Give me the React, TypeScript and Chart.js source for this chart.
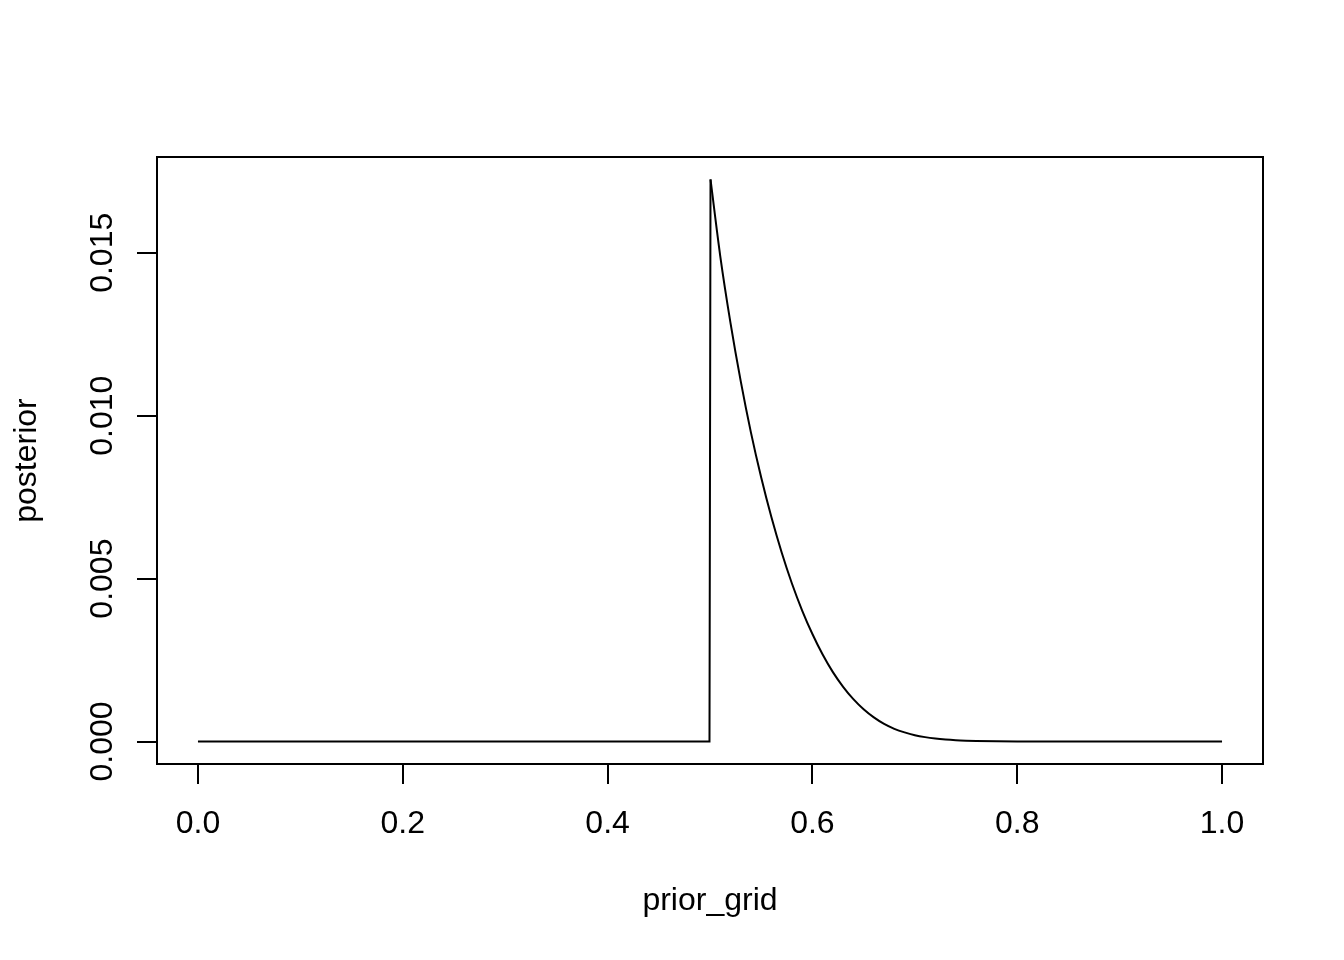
import React, { useEffect, useRef } from "react";
import { Chart, registerables } from "chart.js";

Chart.register(...registerables);

// flat part (prior is zero below 0.5) and the jump
const flatX: number[] = [0, 0.4995, 0.5005];
const flatY: number[] = [0, 0, 0.01725];
// decaying part of the posterior
const gridX: number[] = [
  0.5005, 0.51, 0.52, 0.53, 0.54, 0.55, 0.56, 0.57, 0.58, 0.59, 0.6, 0.61, 0.62,
  0.63, 0.64, 0.65, 0.66, 0.67, 0.68, 0.69, 0.7, 0.71, 0.72, 0.73, 0.74, 0.75,
  0.76, 0.78, 0.8, 0.85, 1.0,
];
const posterior: number[] = [
  0.01725, 0.0149, 0.01285, 0.01106, 0.00948, 0.0081, 0.00688, 0.0058, 0.00485,
  0.00402, 0.0033, 0.00267, 0.00213, 0.00168, 0.0013, 0.00099, 0.00074, 0.00054,
  0.00039, 0.00028, 0.000195, 0.000135, 0.000092, 0.000062, 0.000041, 0.000027,
  0.000017, 0.0000065, 0.0000024, 0.0000002, 0,
];
const xTicks: number[] = [0, 0.2, 0.4, 0.6, 0.8, 1.0];
const xTickLabels: string[] = ["0.0", "0.2", "0.4", "0.6", "0.8", "1.0"];
const yTicks: number[] = [0, 0.005, 0.01, 0.015];
const yTickLabels: string[] = ["0.000", "0.005", "0.010", "0.015"];
const xTitle = "prior_grid";
const yTitle = "posterior";

const FONT = '32px "Liberation Sans", Arial, Helvetica, sans-serif';

export default function App() {
  const ref = useRef<HTMLCanvasElement | null>(null);

  useEffect(() => {
    document.body.style.margin = "0";
    const canvas = ref.current;
    if (!canvas) return;

    const decor = {
      id: "rdecor",
      afterDraw(chart: any) {
        const ctx = chart.ctx as CanvasRenderingContext2D;
        const a = chart.chartArea;
        const xs = chart.scales.x;
        const ys = chart.scales.y;
        ctx.save();
        ctx.strokeStyle = "#000";
        ctx.lineWidth = 2;
        ctx.strokeRect(a.left, a.top, a.right - a.left, a.bottom - a.top);
        ctx.fillStyle = "#000";
        ctx.font = FONT;
        ctx.textAlign = "center";
        ctx.textBaseline = "alphabetic";
        xTicks.forEach((v, i) => {
          ctx.fillText(xTickLabels[i], xs.getPixelForValue(v), 833);
        });
        yTicks.forEach((v, i) => {
          ctx.save();
          ctx.translate(112, ys.getPixelForValue(v));
          ctx.rotate(-Math.PI / 2);
          ctx.fillText(yTickLabels[i], 0, 0);
          ctx.restore();
        });
        ctx.fillText(xTitle, (a.left + a.right) / 2, 910);
        ctx.save();
        ctx.translate(36, (a.top + a.bottom) / 2);
        ctx.rotate(-Math.PI / 2);
        ctx.fillText(yTitle, 0, 0);
        ctx.restore();
        ctx.restore();
      },
    };

    const chart = new Chart(canvas, {
      type: "line",
      data: {
        datasets: [
          {
            data: flatX.map((x, i) => ({ x, y: flatY[i] })),
            borderColor: "#000",
            borderWidth: 2,
            pointRadius: 0,
            fill: false,
            tension: 0,
          },
          {
            data: gridX.map((x, i) => ({ x, y: posterior[i] })),
            borderColor: "#000",
            borderWidth: 2,
            pointRadius: 0,
            fill: false,
            cubicInterpolationMode: "monotone",
          },
        ],
      },
      options: {
        animation: false,
        responsive: false,
        devicePixelRatio: 1,
        events: [],
        layout: { padding: { top: 157, right: 81, left: 0, bottom: 0 } },
        plugins: {
          legend: { display: false },
          tooltip: { enabled: false },
          title: { display: false },
        },
        scales: {
          x: {
            type: "linear",
            min: -0.04,
            max: 1.04,
            afterBuildTicks: (s: any) => {
              s.ticks = xTicks.map((v) => ({ value: v }));
            },
            afterFit: (s: any) => {
              s.height = 196;
            },
            ticks: { display: false },
            border: { display: false },
            grid: {
              drawOnChartArea: false,
              drawTicks: true,
              tickLength: 20,
              color: "#000",
              lineWidth: 2,
            },
          },
          y: {
            type: "linear",
            min: -0.00069,
            max: 0.01794,
            afterBuildTicks: (s: any) => {
              s.ticks = yTicks.map((v) => ({ value: v }));
            },
            afterFit: (s: any) => {
              s.width = 157;
            },
            ticks: { display: false },
            border: { display: false },
            grid: {
              drawOnChartArea: false,
              drawTicks: true,
              tickLength: 20,
              color: "#000",
              lineWidth: 2,
            },
          },
        },
      },
      plugins: [decor],
    } as any);

    return () => {
      chart.destroy();
    };
  }, []);

  return (
    <canvas
      ref={ref}
      width={1344}
      height={960}
      style={{ display: "block", width: 1344, height: 960 }}
    />
  );
}
